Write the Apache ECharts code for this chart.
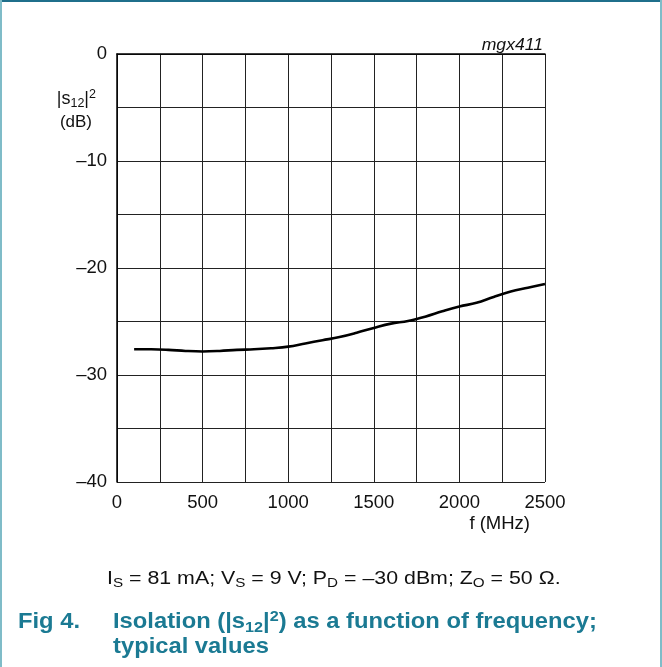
<!DOCTYPE html>
<html>
<head>
<meta charset="utf-8">
<script src="https://cdn.jsdelivr.net/npm/echarts@6/dist/echarts.min.js"></script>
<style>html,body{margin:0;padding:0;background:#fff;}#c{width:662px;height:667px;}</style>
</head>
<body>
<div id="c"></div>
<script>
var freqs = [100,200,300,400,500,600,700,800,900,1000,1100,1200,1300,1400,1500,1600,1700,1800,1900,2000,2100,2200,2300,2400,2500];
var s12 = [-27.6,-27.6,-27.65,-27.75,-27.8,-27.75,-27.65,-27.6,-27.5,-27.35,-27.05,-26.75,-26.45,-26.05,-25.6,-25.2,-24.95,-24.55,-24.05,-23.6,-23.25,-22.7,-22.2,-21.85,-21.5];
var xTickLabels = ['0','500','1000','1500','2000','2500'];
var yTickLabels = ['0','\u201310','\u201320','\u201330','\u201340'];

var FONT = '"Liberation Sans", Arial, sans-serif';
var TEAL = '#1b7a93';
var chart = echarts.init(document.getElementById('c'), null, {renderer:'canvas'});
var pts = freqs.map(function(f,i){return [f, s12[i]];});

chart.setOption({
  animation:false,
  grid:{left:117, top:54, width:428, height:428, containLabel:false},
  xAxis:{type:'value', min:0, max:2500, interval:250,
    axisLine:{show:true, lineStyle:{color:'#000', width:1.5}},
    axisTick:{show:false},
    splitLine:{show:true, lineStyle:{color:'#222', width:1}},
    axisLabel:{margin:11, fontFamily:FONT, fontSize:18.5, color:'#111',
      formatter:function(v){ return v%500===0 ? xTickLabels[v/500] : ''; }}
  },
  yAxis:{type:'value', min:-40, max:0, interval:5,
    axisLine:{show:true, lineStyle:{color:'#000', width:1.5}},
    axisTick:{show:false},
    splitLine:{show:true, lineStyle:{color:'#222', width:1}},
    axisLabel:{margin:10, fontFamily:FONT, fontSize:18.5, color:'#111',
      formatter:function(v){ return v%10===0 ? yTickLabels[-v/10] : ''; }}
  },
  series:[{type:'line', data:pts, smooth:0.4, symbol:'none',
    lineStyle:{color:'#000', width:2.6}}],
  graphic:[
    {type:'rect', shape:{x:0,y:0,width:662,height:2}, style:{fill:'#1f6f8b'}},
    {type:'rect', shape:{x:0,y:0,width:2,height:667}, style:{fill:'#7fbcc8'}},
    {type:'rect', shape:{x:660,y:0,width:2,height:667}, style:{fill:'#7fbcc8'}},
    {type:'text', x:543, y:46, scaleX:1.1, style:{text:'mgx411', font:'italic 16px '+FONT, fill:'#111', align:'right', verticalAlign:'middle'}},
    {type:'text', x:96, y:99, style:{text:'{m||s}{s|12}{m||}{p|2}', align:'right', verticalAlign:'middle',
      rich:{m:{fontSize:18, fontFamily:FONT, fill:'#111', lineHeight:22},
            s:{fontSize:12.5, fontFamily:FONT, fill:'#111', lineHeight:12, verticalAlign:'bottom'},
            p:{fontSize:12.5, fontFamily:FONT, fill:'#111', lineHeight:12, verticalAlign:'top'}}}},
    {type:'text', x:92, y:122, style:{text:'(dB)', font:'17px '+FONT, fill:'#111', align:'right', verticalAlign:'middle'}},
    {type:'text', x:530, y:524, style:{text:'f (MHz)', font:'18.5px '+FONT, fill:'#111', align:'right', verticalAlign:'middle'}},
    {type:'text', x:107, y:579, scaleX:1.22, style:{text:'{m|I}{s|S}{m| = 81 mA; V}{s|S}{m| = 9 V; P}{s|D}{m| = \u201330 dBm; Z}{s|O}{m| = 50 \u03a9.}', align:'left', verticalAlign:'middle',
      rich:{m:{fontSize:17.5, fontFamily:FONT, fill:'#111', lineHeight:22},
            s:{fontSize:12.5, fontFamily:FONT, fill:'#111', lineHeight:12, verticalAlign:'bottom'}}}},
    {type:'text', x:18, y:622, scaleX:1.08, style:{text:'Fig 4.', font:'bold 22px '+FONT, fill:TEAL, align:'left', verticalAlign:'middle'}},
    {type:'text', x:113, y:622, scaleX:1.08, style:{text:'{m|Isolation (|s}{s|12}{m||}{p|2}{m|) as a function of frequency;}', align:'left', verticalAlign:'middle',
      rich:{m:{fontSize:22, fontFamily:FONT, fontWeight:'bold', fill:TEAL, lineHeight:26},
            s:{fontSize:15, fontFamily:FONT, fontWeight:'bold', fill:TEAL, lineHeight:14, verticalAlign:'bottom'},
            p:{fontSize:15, fontFamily:FONT, fontWeight:'bold', fill:TEAL, lineHeight:14, verticalAlign:'top'}}}},
    {type:'text', x:113, y:647, scaleX:1.08, style:{text:'typical values', font:'bold 22px '+FONT, fill:TEAL, align:'left', verticalAlign:'middle'}}
  ]
});
</script>
</body>
</html>
